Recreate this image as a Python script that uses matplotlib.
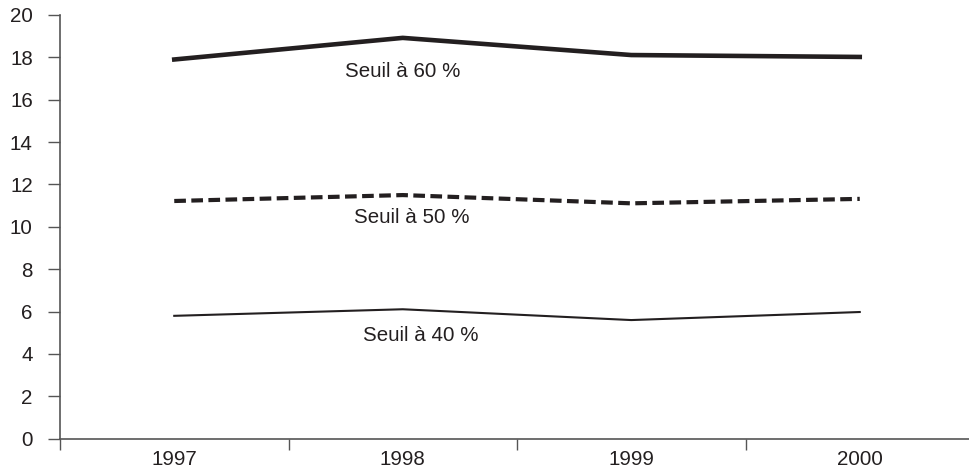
import matplotlib.pyplot as plt
from matplotlib.ticker import FixedLocator, NullFormatter

plt.rcParams['font.family'] = ['Liberation Sans', 'DejaVu Sans']

years = ["1997", "1998", "1999", "2000"]
seuil_60 = [17.9, 18.92, 18.11, 18.02]
seuil_50 = [11.22, 11.5, 11.11, 11.32]
seuil_40 = [5.8, 6.11, 5.6, 5.98]
labels = ["Seuil à 60 %", "Seuil à 50 %", "Seuil à 40 %"]
label_y = [17.33, 10.42, 4.85]
label_x = [0.0, 0.04, 0.08]

ink = "#231f20"
axc = "#555555"

fig = plt.figure(figsize=(9.69, 4.68), dpi=100)
ax = fig.add_axes([60 / 969, 29.3 / 468, 1 - 60 / 969, 423.7 / 468])

x = range(len(years))
ax.plot(x, seuil_60, color=ink, lw=3.3, solid_joinstyle="miter")
ax.plot(x, seuil_50, color=ink, lw=3.0, dashes=(2.8, 1.3), dash_capstyle="butt")
ax.plot(x, seuil_40, color=ink, lw=1.5)

for lab, lx, ly in zip(labels, label_x, label_y):
    ax.text(1 + lx, ly, lab, ha="center", va="center", fontsize=14.8, color=ink)

ax.set_xlim(-0.5, -0.5 + 909 / 228.5)
ax.set_ylim(0, 20)
ax.set_yticks(range(0, 21, 2))
ax.tick_params(axis="y", length=8.6, width=1, color=axc, pad=11, labelsize=14.8, labelcolor=ink)

ax.xaxis.set_major_locator(FixedLocator([-0.5, 0.5, 1.5, 2.5]))
ax.xaxis.set_major_formatter(NullFormatter())
ax.xaxis.set_minor_locator(FixedLocator(list(x)))
ax.set_xticklabels(years, minor=True)
ax.tick_params(axis="x", which="major", length=8, width=1, color=axc)
ax.tick_params(axis="x", which="minor", length=0, pad=8, labelsize=14.8, labelcolor=ink)

for s in ["top", "right"]:
    ax.spines[s].set_visible(False)
for s in ["left", "bottom"]:
    ax.spines[s].set_color(axc)
    ax.spines[s].set_linewidth(1.2)

fig.savefig("out.png", dpi=100)
